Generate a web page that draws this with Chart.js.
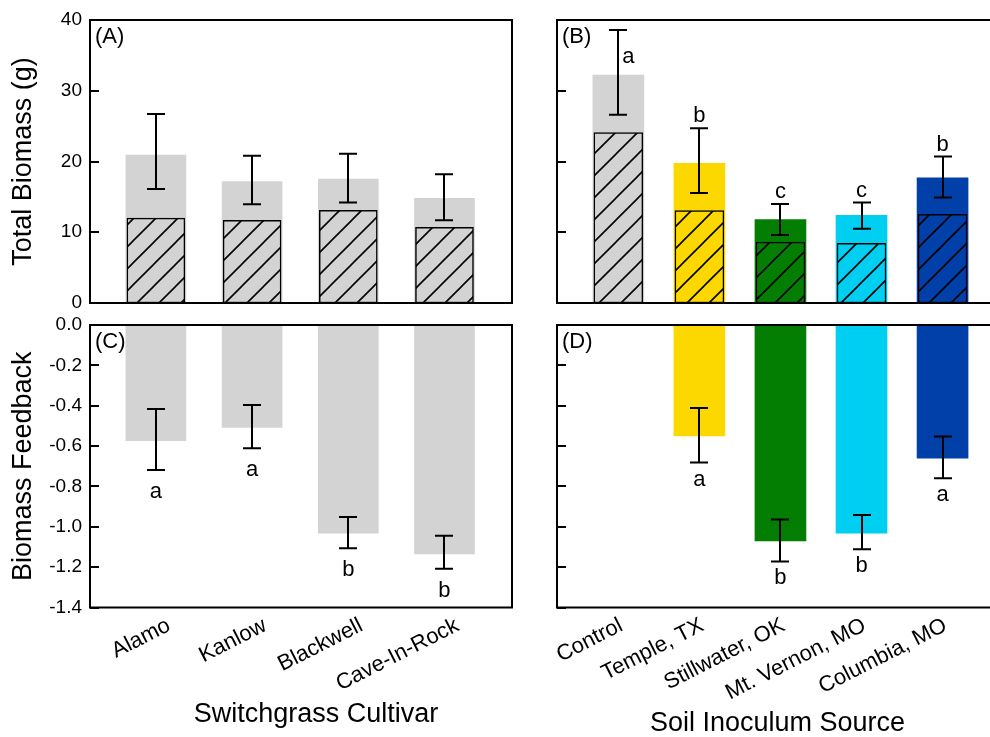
<!DOCTYPE html>
<html>
<head>
<meta charset="utf-8">
<script src="https://cdn.jsdelivr.net/npm/chart.js@4/dist/chart.umd.min.js"></script>
<style>
  html, body { margin: 0; padding: 0; background: #fff; width: 990px; height: 737px; overflow: hidden; }
  canvas { position: absolute; left: 0; top: 0; }
</style>
</head>
<body>
<canvas id="panelA" width="1000" height="737"></canvas>
<canvas id="panelB" width="1000" height="737"></canvas>
<canvas id="panelC" width="1000" height="737"></canvas>
<canvas id="panelD" width="1000" height="737"></canvas>
<script>
const FONT = '"Liberation Sans", Arial, sans-serif';

const cultivars = ['Alamo', 'Kanlow', 'Blackwell', 'Cave-In-Rock'];
const sources = ['Control', 'Temple, TX', 'Stillwater, OK', 'Mt. Vernon, MO', 'Columbia, MO'];
const sourceColors = ['#d3d3d3', '#fcd800', '#037e03', '#00cff2', '#0040a8'];

// (A) total biomass by cultivar: whole bar and hatched part
const cultTotal   = [20.9, 17.15, 17.5, 14.8];
const cultHatched = [12.0, 11.7, 13.1, 10.7];
const cultErrHigh = [26.7, 20.8, 21.1, 18.2];
const cultErrLow  = [16.1, 13.95, 14.2, 11.7];

// (B) total biomass by soil source
const srcTotal   = [32.2, 19.75, 11.8, 12.4, 17.7];
const srcHatched = [24.1, 13.05, 8.6, 8.45, 12.55];
const srcErrHigh = [38.6, 24.7, 14.0, 14.2, 20.7];
const srcErrLow  = [26.6, 15.55, 9.6, 10.5, 14.9];
const srcLetters = ['a', 'b', 'c', 'c', 'b'];

// (C) biomass feedback by cultivar
const cultFeedback = [-0.573, -0.507, -1.032, -1.134];
const cultFbHigh   = [-0.416, -0.396, -0.952, -1.045];
const cultFbLow    = [-0.718, -0.611, -1.106, -1.208];
const cultFbLetters = ['a', 'a', 'b', 'b'];

// (D) biomass feedback by soil source (no control bar)
const srcFeedback = [null, -0.550, -1.070, -1.032, -0.660];
const srcFbHigh   = [null, -0.411, -0.964, -0.941, -0.553];
const srcFbLow    = [null, -0.682, -1.172, -1.111, -0.759];
const srcFbLetters = ['', 'a', 'b', 'b', 'a'];

function hatch(color) {
  const s = 22;
  const c = document.createElement('canvas');
  c.width = c.height = s;
  const g = c.getContext('2d');
  g.fillStyle = color;
  g.fillRect(0, 0, s, s);
  g.strokeStyle = '#000';
  g.lineWidth = 1.6;
  g.beginPath();
  [0, s, 2 * s].forEach(k => { g.moveTo(k + 2, -2); g.lineTo(-2, k + 2); });
  g.stroke();
  return g.createPattern(c, 'repeat');
}

function pts(arr) {
  return arr.map((v, i) => ({ x: i + 1, y: v }));
}

function overlay(o) {
  return {
    id: 'overlay',
    afterDatasetsDraw(chart) {
      const { ctx, chartArea: a } = chart;
      const x = chart.scales.x, y = chart.scales.y;
      ctx.save();
      ctx.strokeStyle = '#000';
      ctx.fillStyle = '#000';
      ctx.lineWidth = 2;
      // ticks pointing into the plot
      y.ticks.forEach(t => {
        const py = Math.round(y.getPixelForValue(t.value));
        ctx.beginPath();
        ctx.moveTo(a.left, py);
        ctx.lineTo(a.left + 9, py);
        ctx.stroke();
      });
      // error bars
      o.low.forEach((lo, i) => {
        if (lo == null) return;
        const px = Math.round(x.getPixelForValue(i + 1));
        const y1 = y.getPixelForValue(o.high[i]);
        const y2 = y.getPixelForValue(lo);
        ctx.beginPath();
        ctx.moveTo(px, y1); ctx.lineTo(px, y2);
        ctx.moveTo(px - 9, y1); ctx.lineTo(px + 9, y1);
        ctx.moveTo(px - 9, y2); ctx.lineTo(px + 9, y2);
        ctx.stroke();
      });
      // significance letters
      ctx.font = '22px ' + FONT;
      ctx.textBaseline = 'alphabetic';
      (o.letters || []).forEach((L, i) => {
        if (!L) return;
        const px = x.getPixelForValue(i + 1);
        if (o.letterBelow) {
          ctx.textAlign = 'center';
          ctx.fillText(L, px, y.getPixelForValue(o.low[i]) + o.letterGap);
        } else if (i === 0) {
          ctx.textAlign = 'left';
          ctx.fillText(L, px + 4, y.getPixelForValue(o.high[i]) + 33);
        } else {
          ctx.textAlign = 'center';
          ctx.fillText(L, px, y.getPixelForValue(o.high[i]) - 6);
        }
      });
      // frame
      ctx.lineWidth = 2;
      ctx.strokeRect(a.left, a.top, a.right - a.left, a.bottom - a.top);
      // panel tag
      ctx.font = '22px ' + FONT;
      ctx.textAlign = 'left';
      ctx.textBaseline = 'top';
      ctx.fillText(o.tag, a.left + 5, a.top + 6);
      // slanted category labels under the axis
      if (o.showX) {
        ctx.font = '22px ' + FONT;
        ctx.textAlign = 'right';
        ctx.textBaseline = 'top';
        o.labels.forEach((L, i) => {
          ctx.save();
          ctx.translate(x.getPixelForValue(i + 1) + o.labelOffset, a.bottom + 7);
          ctx.rotate(-27 * Math.PI / 180);
          ctx.fillText(L, 0, 0);
          ctx.restore();
        });
      }
      // axis titles
      ctx.font = '27px ' + FONT;
      if (o.yTitle) {
        ctx.save();
        ctx.translate(24, (a.top + a.bottom) / 2);
        ctx.rotate(-Math.PI / 2);
        ctx.textAlign = 'center';
        ctx.textBaseline = 'middle';
        ctx.fillText(o.yTitle, 0, 0);
        ctx.restore();
      }
      if (o.xTitle) {
        ctx.textAlign = 'center';
        ctx.textBaseline = 'alphabetic';
        ctx.fillText(o.xTitle, (a.left + a.right) / 2 + o.xTitleDx, o.xTitleY);
      }
      ctx.restore();
    }
  };
}

function panel(id, o) {
  return new Chart(document.getElementById(id), {
    type: 'bar',
    data: { datasets: o.datasets },
    options: {
      responsive: false,
      maintainAspectRatio: false,
      animation: false,
      events: [],
      layout: { padding: o.pad },
      plugins: { legend: { display: false }, tooltip: { enabled: false } },
      scales: {
        x: {
          type: 'linear',
          offset: false,
          min: o.xmin,
          max: o.xmax,
          afterBuildTicks: s => { s.ticks = o.labels.map((_, i) => ({ value: i + 1 })); },
          afterFit: s => { s.height = 0; },
          grid: { display: false, drawTicks: false },
          border: { display: false },
          ticks: { display: false }
        },
        y: {
          min: o.ymin,
          max: o.ymax,
          afterFit: s => { s.width = o.yWidth; },
          grid: { display: false, drawTicks: false },
          border: { display: false },
          ticks: {
            display: o.showY,
            stepSize: o.step,
            padding: 8,
            color: '#000',
            font: { family: FONT, size: 19 },
            callback: o.fmt
          }
        }
      }
    },
    plugins: [overlay(o)]
  });
}

panel('panelA', {
  tag: '(A)', labels: cultivars, xmin: 0.315, xmax: 4.702, ymin: 0, ymax: 40, step: 10,
  showX: false, showY: true, yWidth: 90, fmt: v => v,
  pad: { left: 0, top: 20, right: 488, bottom: 434 },
  low: cultErrLow, high: cultErrHigh,
  yTitle: 'Total Biomass (g)',
  datasets: [
    { data: pts(cultHatched), backgroundColor: hatch('#d3d3d3'), borderColor: '#000', borderWidth: 1.5,
      borderSkipped: false, barThickness: 58, grouped: false, order: 0 },
    { data: pts(cultTotal), backgroundColor: '#d3d3d3', borderWidth: 0, barThickness: 60, grouped: false, order: 1 }
  ]
});

panel('panelB', {
  tag: '(B)', labels: sources, xmin: 0.243, xmax: 5.61, ymin: 0, ymax: 40, step: 10,
  showX: false, showY: false, yWidth: 0,
  pad: { left: 557, top: 20, right: 8, bottom: 434 },
  low: srcErrLow, high: srcErrHigh, letters: srcLetters,
  datasets: [
    { data: pts(srcHatched), backgroundColor: sourceColors.map(hatch), borderColor: '#000', borderWidth: 1.5,
      borderSkipped: false, barThickness: 49, grouped: false, order: 0 },
    { data: pts(srcTotal), backgroundColor: sourceColors, borderWidth: 0, barThickness: 51, grouped: false, order: 1 }
  ]
});

panel('panelC', {
  tag: '(C)', labels: cultivars, xmin: 0.315, xmax: 4.702, ymin: -1.4, ymax: 0, step: 0.2,
  showX: true, showY: true, yWidth: 90, fmt: v => Number(v).toFixed(1), labelOffset: 8,
  pad: { left: 0, top: 325, right: 488, bottom: 129.5 },
  low: cultFbLow, high: cultFbHigh, letters: cultFbLetters, letterBelow: true, letterGap: 28,
  yTitle: 'Biomass Feedback', xTitle: 'Switchgrass Cultivar', xTitleDx: 15, xTitleY: 722,
  datasets: [
    { data: pts(cultFeedback), backgroundColor: '#d3d3d3', borderWidth: 0, barThickness: 60 }
  ]
});

panel('panelD', {
  tag: '(D)', labels: sources, xmin: 0.243, xmax: 5.61, ymin: -1.4, ymax: 0, step: 0.2,
  showX: true, showY: false, yWidth: 0, labelOffset: -2,
  pad: { left: 557, top: 325, right: 8, bottom: 129.5 },
  low: srcFbLow, high: srcFbHigh, letters: srcFbLetters, letterBelow: true, letterGap: 23,
  xTitle: 'Soil Inoculum Source', xTitleDx: 3, xTitleY: 731,
  datasets: [
    { data: pts(srcFeedback), backgroundColor: sourceColors, borderWidth: 0, barThickness: 51 }
  ]
});
</script>
</body>
</html>
